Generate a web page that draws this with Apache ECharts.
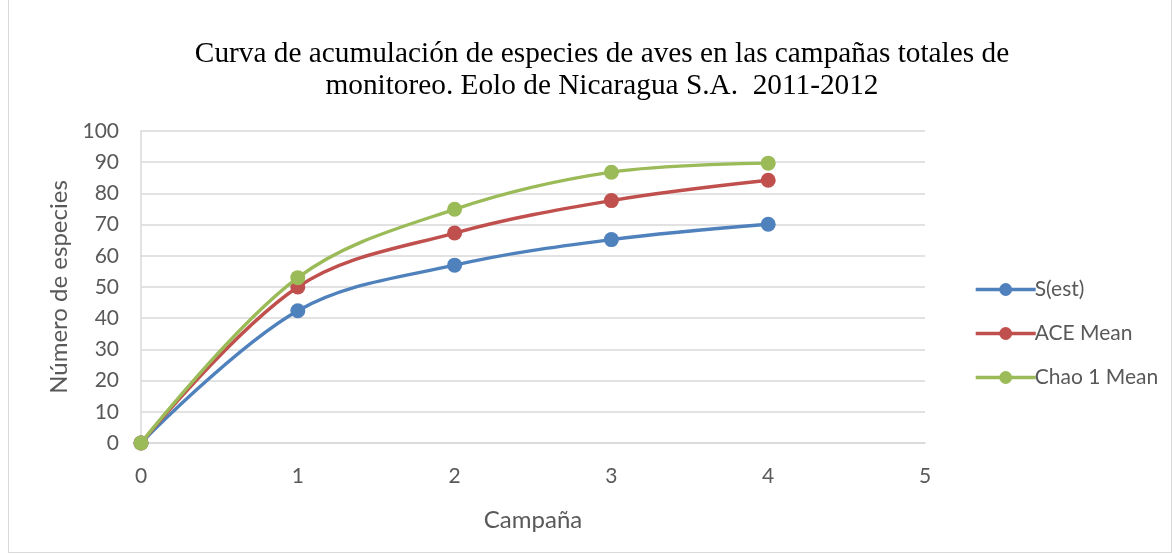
<!DOCTYPE html>
<html>
<head>
<meta charset="utf-8">
<script src="https://cdn.jsdelivr.net/npm/echarts@6/dist/echarts.min.js"></script>
<style>
html,body{margin:0;padding:0;background:#fff;}
#c{position:absolute;left:0;top:0;width:1172px;height:554px;}
#frame{position:absolute;left:8px;top:0px;width:1162px;height:552px;border:1px solid #d9d9d9;border-top:none;pointer-events:none;}
</style>
</head>
<body>
<div id="c"></div>
<div id="frame"></div>
<script>
const campaigns = [0, 1, 2, 3, 4];
const sEst = [0, 42.4, 57.0, 65.2, 70.1];
const aceMean = [0, 50.0, 67.3, 77.7, 84.2];
const chao1Mean = [0, 53.0, 74.9, 86.8, 89.7];
const seriesNames = ['S(est)', 'ACE Mean', 'Chao 1 Mean'];
const colors = ['#4F81BD', '#C0504D', '#9BBB59'];
const titleLines = ['Curva de acumulación de especies de aves en las campañas totales de', 'monitoreo. Eolo de Nicaragua S.A.  2011-2012'];

const font = 'Lato, "Open Sans", sans-serif';
const allData = [sEst, aceMean, chao1Mean];
const chart = echarts.init(document.getElementById('c'));
chart.setOption({
  animation: false,
  backgroundColor: '#fff',
  title: {
    text: titleLines.join('\n'),
    left: 597, top: 33, textAlign: 'center',
    textStyle: { fontFamily: '"Liberation Serif", "Times New Roman", serif', fontSize: 29.3, fontWeight: 'normal', color: '#000', lineHeight: 32 }
  },
  grid: { left: 141, right: 247, top: 131, bottom: 111 },
  legend: {
    orient: 'vertical', left: 969, top: 274, itemGap: 23,
    itemWidth: 60, itemHeight: 16,
    lineStyle: { width: 3.4 },
    textStyle: { fontFamily: font, fontSize: 21, color: '#595959', padding: [0, 0, 0, -6] },
    data: seriesNames
  },
  xAxis: {
    type: 'value', min: 0, max: 5, interval: 1,
    name: 'Campaña', nameLocation: 'middle', nameGap: 65,
    nameTextStyle: { fontFamily: font, fontSize: 24, color: '#595959' },
    axisLine: { show: true, lineStyle: { color: '#d9d9d9', width: 1.5 } },
    axisTick: { show: false },
    axisLabel: { fontFamily: font, fontSize: 21, color: '#595959', margin: 23 },
    splitLine: { show: false }
  },
  yAxis: {
    type: 'value', min: 0, max: 100, interval: 10,
    name: 'Número de especies', nameLocation: 'middle', nameGap: 70,
    nameTextStyle: { fontFamily: font, fontSize: 24, color: '#595959' },
    axisLine: { show: true, lineStyle: { color: '#d9d9d9', width: 1.5 } },
    axisTick: { show: false },
    axisLabel: { fontFamily: font, fontSize: 21, color: '#595959', margin: 22 },
    splitLine: { show: true, lineStyle: { color: '#d9d9d9', width: 1.5 } }
  },
  series: seriesNames.map((n, i) => ({
    name: n, type: 'line', smooth: 0.35,
    data: campaigns.map((c, j) => [c, allData[i][j]]),
    symbol: 'circle', symbolSize: 15,
    lineStyle: { color: colors[i], width: 3.4 },
    itemStyle: { color: colors[i] },
    z: 2 + i
  }))
});
</script>
</body>
</html>
